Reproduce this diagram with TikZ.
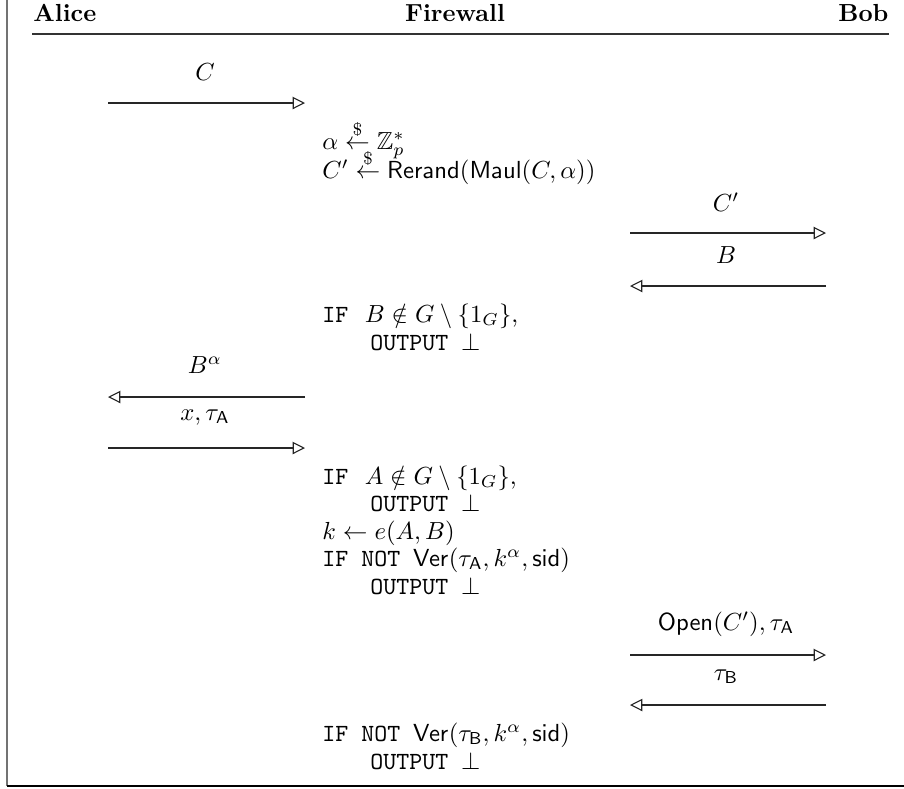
\documentclass[tikz,border=0pt]{standalone}
\usepackage{amsmath,amssymb}
\usetikzlibrary{arrows.meta}
\begin{document}
\begin{tikzpicture}[x=0.405pt,y=-0.405pt,
  msg/.style={draw=black!85, line width=0.45pt, -{Triangle[open,length=5pt,width=5pt]}},
  lbl/.style={anchor=base, inner sep=0pt},
  fwline/.style={anchor=base west, inner sep=0pt},
  hdr/.style={anchor=base, inner sep=0pt, font=\bfseries},
  frameline/.style={line width=1.1pt}]
\useasboundingbox (0,0) rectangle (904,788);
% frame
\coordinate (ftop) at (7,0);
\coordinate (fcorner) at (7,786);
\coordinate (fright) at (904,786);
\draw[frameline, draw=black!55] (ftop) -- (fcorner);
\draw[frameline, draw=black] (fcorner) -- (fright);
% header
\node[hdr, anchor=base west] (alice) at (33,21) {Alice};
\node[hdr] (firewall) at (455,21) {Firewall};
\node[hdr, anchor=base east] (bob) at (889,21) {Bob};
\coordinate (rulel) at (32,34);
\coordinate (ruler) at (889,34);
\draw[line width=0.6pt, draw=black!80] (rulel) -- (ruler);
% message 1: C
\coordinate (m1a) at (108,103); \coordinate (m1b) at (305,103);
\node[lbl] (l1) at (205,80) {$C$};
\draw[msg] (m1a) -- (m1b);
% firewall step 1
\node[fwline] (f1) at (322,149) {$\alpha \stackrel{\$}{\leftarrow} \mathbb{Z}_p^*$};
\node[fwline] (f2) at (322,178) {$C' \stackrel{\$}{\leftarrow} \mathsf{Rerand}(\mathsf{Maul}(C,\alpha))$};
% message C'
\coordinate (m2a) at (630,233); \coordinate (m2b) at (826,233);
\node[lbl] (l2) at (726,211) {$C'$};
\draw[msg] (m2a) -- (m2b);
% message B
\coordinate (m3a) at (826,286); \coordinate (m3b) at (630,286);
\node[lbl] (l3) at (726,263) {$B$};
\draw[msg] (m3a) -- (m3b);
% firewall check B
\node[fwline] (f3) at (322,322) {\texttt{IF}~~$B \notin G \setminus \{1_G\}$,};
\node[fwline] (f4) at (370,350) {\texttt{OUTPUT }$\bot$};
% message B^alpha
\coordinate (m4a) at (305,397); \coordinate (m4b) at (108,397);
\node[lbl] (l4) at (205,373) {$B^\alpha$};
\draw[msg] (m4a) -- (m4b);
% message x, tau_A
\coordinate (m5a) at (108,448); \coordinate (m5b) at (305,448);
\node[lbl] (l5) at (205,420) {$x, \tau_{\mathsf{A}}$};
\draw[msg] (m5a) -- (m5b);
% firewall checks
\node[fwline] (f5) at (322,484) {\texttt{IF}~~$A \notin G \setminus \{1_G\}$,};
\node[fwline] (f6) at (370,511) {\texttt{OUTPUT }$\bot$};
\node[fwline] (f7) at (322,539) {$k \leftarrow e(A,B)$};
\node[fwline] (f8) at (322,566) {\texttt{IF NOT }$\mathsf{Ver}(\tau_{\mathsf{A}}, k^\alpha, \mathsf{sid})$};
\node[fwline] (f9) at (370,594) {\texttt{OUTPUT }$\bot$};
% message Open
\coordinate (m6a) at (630,655); \coordinate (m6b) at (826,655);
\node[lbl] (l6) at (726,630) {$\mathsf{Open}(C'), \tau_{\mathsf{A}}$};
\draw[msg] (m6a) -- (m6b);
% message tau_B
\coordinate (m7a) at (826,705); \coordinate (m7b) at (630,705);
\node[lbl] (l7) at (726,680) {$\tau_{\mathsf{B}}$};
\draw[msg] (m7a) -- (m7b);
% final check
\node[fwline] (f10) at (322,741) {\texttt{IF NOT }$\mathsf{Ver}(\tau_{\mathsf{B}}, k^\alpha, \mathsf{sid})$};
\node[fwline] (f11) at (370,769) {\texttt{OUTPUT }$\bot$};
\end{tikzpicture}
\end{document}
